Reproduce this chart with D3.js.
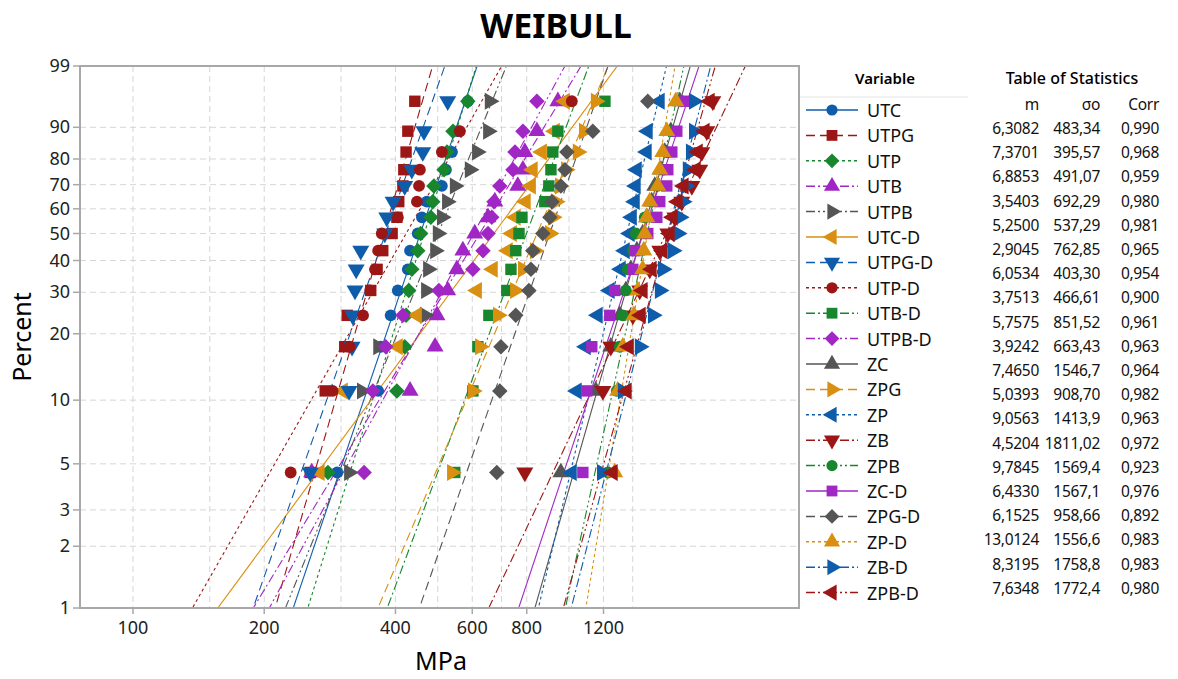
<!DOCTYPE html>
<html lang="en">
<head>
<meta charset="utf-8">
<script src="https://d3js.org/d3.v7.min.js"></script>
<style>
  body { margin: 0; background: #fff; font-family: "Segoe UI", "Noto Sans", sans-serif; }
  .grid line { stroke: #d6d6d6; stroke-width: 1; stroke-dasharray: 6,4; }
  .tick-label { font-size: 18px; fill: #222; }
  .legend-label { font-size: 18px; fill: #111; }
  .stat { font-size: 15.5px; fill: #111; text-anchor: end; letter-spacing: -0.3px; }
</style>
</head>
<body>
<svg id="chart" width="1178" height="679"></svg>
<script>
// percent ticks on the Weibull probability axis
var percentTicks = [1, 2, 3, 5, 10, 20, 30, 40, 50, 60, 70, 80, 90, 99];
var gridMPa = [100, 150, 200, 300, 400, 500, 600, 700, 800, 1000, 1200, 1400];
var labelMPa = [100, 200, 400, 600, 800, 1200];

var names = ["UTC", "UTPG", "UTP", "UTB", "UTPB", "UTC-D", "UTPG-D", "UTP-D", "UTB-D", "UTPB-D",
             "ZC", "ZPG", "ZP", "ZB", "ZPB", "ZC-D", "ZPG-D", "ZP-D", "ZB-D", "ZPB-D"];

// table of statistics (shape m, scale sigma0, correlation) as printed
var mText = ["6,3082", "7,3701", "6,8853", "3,5403", "5,2500", "2,9045", "6,0534", "3,7513", "5,7575", "3,9242",
             "7,4650", "5,0393", "9,0563", "4,5204", "9,7845", "6,4330", "6,1525", "13,0124", "8,3195", "7,6348"];
var sigmaText = ["483,34", "395,57", "491,07", "692,29", "537,29", "762,85", "403,30", "466,61", "851,52", "663,43",
                 "1546,7", "908,70", "1413,9", "1811,02", "1569,4", "1567,1", "958,66", "1556,6", "1758,8", "1772,4"];
var corrText = ["0,990", "0,968", "0,959", "0,980", "0,981", "0,965", "0,954", "0,900", "0,961", "0,963",
                "0,964", "0,982", "0,963", "0,972", "0,923", "0,976", "0,892", "0,983", "0,983", "0,980"];

// strength data (MPa), 15 specimens per group, sorted
var utc   = [294, 365, 370, 390, 405, 427, 432, 450, 460, 472, 511, 522, 539, 556, 586];
var utpg  = [255, 276, 306, 310, 351, 363, 374, 393, 403, 407, 416, 418, 423, 427, 443];
var utp   = [280, 403, 420, 423, 429, 436, 450, 457, 482, 487, 490, 517, 525, 542, 586];
var utb   = [257, 432, 493, 498, 527, 553, 571, 608, 652, 676, 763, 784, 792, 844, 943];
var utpb  = [313, 335, 365, 467, 470, 475, 493, 500, 511, 525, 547, 592, 615, 652, 658];
var utcD  = [268, 303, 405, 448, 615, 669, 724, 740, 755, 796, 818, 826, 867, 928, 979];
var utpgD = [255, 313, 318, 319, 323, 325, 333, 378, 382, 395, 420, 436, 462, 465, 527];
var utpD  = [230, 287, 314, 337, 350, 359, 365, 372, 405, 448, 453, 455, 511, 562, 1015];
var utbD  = [547, 602, 618, 655, 720, 736, 755, 768, 780, 880, 899, 909, 918, 943, 1209];
var utpbD = [339, 355, 380, 416, 503, 602, 635, 652, 665, 673, 694, 744, 752, 784, 844];
var zc    = [958, 1152, 1247, 1308, 1350, 1386, 1431, 1476, 1508, 1548, 1573, 1624, 1658, 1712, 1795];
var zpg   = [539, 602, 625, 687, 752, 784, 835, 904, 918, 933, 953, 984, 1047, 1082, 1152];
var zp    = [1015, 1042, 1093, 1164, 1240, 1315, 1343, 1379, 1394, 1416, 1423, 1431, 1508, 1516, 1615];
var zb    = [792, 1196, 1247, 1401, 1453, 1532, 1615, 1685, 1749, 1814, 1913, 1995, 2016, 2070, 2137];
var zpb   = [1228, 1287, 1308, 1329, 1350, 1364, 1401, 1423, 1492, 1548, 1598, 1641, 1676, 1721, 1814];
var zcD   = [1076, 1099, 1128, 1240, 1273, 1401, 1416, 1516, 1590, 1615, 1676, 1685, 1721, 1767, 1853];
var zpgD  = [683, 694, 698, 755, 809, 818, 826, 871, 904, 914, 958, 979, 989, 1134, 1516];
var zpD   = [1273, 1293, 1329, 1409, 1438, 1476, 1484, 1492, 1508, 1532, 1598, 1615, 1641, 1676, 1758];
var zbD   = [1190, 1329, 1453, 1557, 1615, 1641, 1730, 1776, 1795, 1824, 1853, 1872, 1903, 1934, 1934];
var zpbD  = [1260, 1357, 1372, 1461, 1476, 1548, 1641, 1703, 1730, 1776, 1833, 1954, 1975, 2048, 2103];

var samples = [utc, utpg, utp, utb, utpb, utcD, utpgD, utpD, utbD, utpbD,
               zc, zpg, zp, zb, zpb, zcD, zpgD, zpD, zbD, zpbD];

var palette = ["#0f5cab", "#9c1616", "#17862c", "#a127c4", "#555555", "#d98f10"];
var shapes = ["circle", "square", "diamond", "up", "right", "left", "down"];
var dashes = [null, "9,5", "3,3", "9,3,2,3", "9,3,2,3,2,3"];

var svg = d3.select("#chart");
var L = 80, R = 799, T = 66, B = 608;

var x = d3.scaleLog().domain([75.6, 3369]).range([L, R]);
function wb(p) { return Math.log(-Math.log(1 - p / 100)); }
var y = d3.scaleLinear().domain([wb(1), wb(99)]).range([B, T]);

// title
svg.append("text").attr("x", 556).attr("y", 38).attr("text-anchor", "middle")
  .style("font-size", "34px").style("font-weight", "bold").text("WEIBULL");

// grid
var grid = svg.append("g").attr("class", "grid");
grid.selectAll(".h").data(percentTicks.filter(function(d) { return d < 99; })).enter().append("line")
  .attr("x1", L).attr("x2", R).attr("y1", function(d) { return y(wb(d)); }).attr("y2", function(d) { return y(wb(d)); });
grid.selectAll(".v").data(gridMPa).enter().append("line")
  .attr("y1", T).attr("y2", B).attr("x1", function(d) { return x(d); }).attr("x2", function(d) { return x(d); });

// axes ticks + labels
svg.selectAll(".yt").data(percentTicks).enter().append("line")
  .attr("x1", L - 7).attr("x2", L).attr("y1", function(d) { return y(wb(d)); }).attr("y2", function(d) { return y(wb(d)); })
  .attr("stroke", "#a8a8a8").attr("stroke-width", 1.5);
svg.selectAll(".yl").data(percentTicks).enter().append("text").attr("class", "tick-label")
  .attr("x", L - 10).attr("y", function(d) { return y(wb(d)) + 6; }).attr("text-anchor", "end")
  .text(function(d) { return d; });
svg.selectAll(".xt").data(labelMPa).enter().append("line")
  .attr("y1", B).attr("y2", B + 6).attr("x1", function(d) { return x(d); }).attr("x2", function(d) { return x(d); })
  .attr("stroke", "#a8a8a8").attr("stroke-width", 1.5);
svg.selectAll(".xl").data(labelMPa).enter().append("text").attr("class", "tick-label")
  .attr("x", function(d) { return x(d); }).attr("y", B + 26).attr("text-anchor", "middle")
  .text(function(d) { return d; });

svg.append("text").attr("transform", "translate(31,337) rotate(-90)").attr("text-anchor", "middle")
  .style("font-size", "25px").text("Percent");
svg.append("text").attr("x", 441).attr("y", 670).attr("text-anchor", "middle")
  .style("font-size", "25px").text("MPa");

// clip for fitted lines
svg.append("clipPath").attr("id", "plotclip").append("rect")
  .attr("x", L).attr("y", T).attr("width", R - L).attr("height", B - T);

function symbolPath(k, scale) {
  var s = shapes[k % 7];
  scale = scale || 1;
  if (s === "circle") return { d: d3.symbol(d3.symbolCircle, 110 * scale)(), rot: 0 };
  if (s === "square") return { d: d3.symbol(d3.symbolSquare, 130 * scale)(), rot: 0 };
  if (s === "diamond") return { d: d3.symbol(d3.symbolSquare, 120 * scale)(), rot: 45 };
  var rot = { up: 0, right: 90, left: -90, down: 180 }[s];
  return { d: d3.symbol(d3.symbolTriangle, 125 * scale)(), rot: rot };
}

var plot = svg.append("g");
var lines = plot.append("g").attr("clip-path", "url(#plotclip)");

samples.forEach(function(vals, k) {
  var col = palette[k % 6];
  var m = +mText[k].replace(",", ".");
  var s0 = +sigmaText[k].replace(",", ".");
  var ends = [0.5, 99.5].map(function(p) {
    return [s0 * Math.pow(-Math.log(1 - p / 100), 1 / m), p];
  });
  lines.append("line")
    .attr("x1", x(ends[0][0])).attr("y1", y(wb(ends[0][1])))
    .attr("x2", x(ends[1][0])).attr("y2", y(wb(ends[1][1])))
    .attr("stroke", col).attr("stroke-width", 1.1)
    .attr("stroke-dasharray", dashes[k % 5]);
});

samples.forEach(function(vals, k) {
  var col = palette[k % 6];
  var n = vals.length;
  var sym = symbolPath(k);
  plot.append("g").selectAll("path").data(vals).enter().append("path")
    .attr("d", sym.d)
    .attr("transform", function(d, i) {
      var p = 100 * (i + 1 - 0.3) / (n + 0.4);
      return "translate(" + x(d) + "," + y(wb(p)) + ") rotate(" + sym.rot + ")";
    })
    .attr("fill", col);
});

// frame
svg.append("rect").attr("x", L).attr("y", T).attr("width", R - L).attr("height", B - T)
  .attr("fill", "none").attr("stroke", "#a8a8a8").attr("stroke-width", 2);

// legend
var leg = svg.append("g");
leg.append("text").attr("x", 885).attr("y", 84).attr("text-anchor", "middle")
  .style("font-size", "15px").style("font-weight", "600").text("Variable");
leg.append("line").attr("x1", 800).attr("x2", 968).attr("y1", 97).attr("y2", 97)
  .attr("stroke", "#e2e2e2").attr("stroke-width", 1);
names.forEach(function(nm, k) {
  var cy = 110 + k * 25.4;
  var col = palette[k % 6];
  leg.append("line").attr("x1", 806).attr("x2", 858).attr("y1", cy).attr("y2", cy)
    .attr("stroke", col).attr("stroke-width", 1.5).attr("stroke-dasharray", dashes[k % 5]);
  var sym = symbolPath(k, 0.9);
  leg.append("path").attr("d", sym.d).attr("fill", col)
    .attr("transform", "translate(832," + cy + ") rotate(" + sym.rot + ")");
  leg.append("text").attr("class", "legend-label").attr("x", 867).attr("y", cy + 7).text(nm);
});

// table of statistics
var tab = svg.append("g");
tab.append("text").attr("x", 1072).attr("y", 84).attr("text-anchor", "middle")
  .style("font-size", "16px").style("font-weight", "500").text("Table of Statistics");
[["m", 1039], ["σo", 1100], ["Corr", 1159]].forEach(function(h) {
  tab.append("text").attr("class", "stat").attr("x", h[1]).attr("y", 110).text(h[0]);
});
names.forEach(function(nm, k) {
  var by = 134 + k * 24.2;
  tab.append("text").attr("class", "stat").attr("x", 1039).attr("y", by).text(mText[k]);
  tab.append("text").attr("class", "stat").attr("x", 1100).attr("y", by).text(sigmaText[k]);
  tab.append("text").attr("class", "stat").attr("x", 1159).attr("y", by).text(corrText[k]);
});
</script>
</body>
</html>
